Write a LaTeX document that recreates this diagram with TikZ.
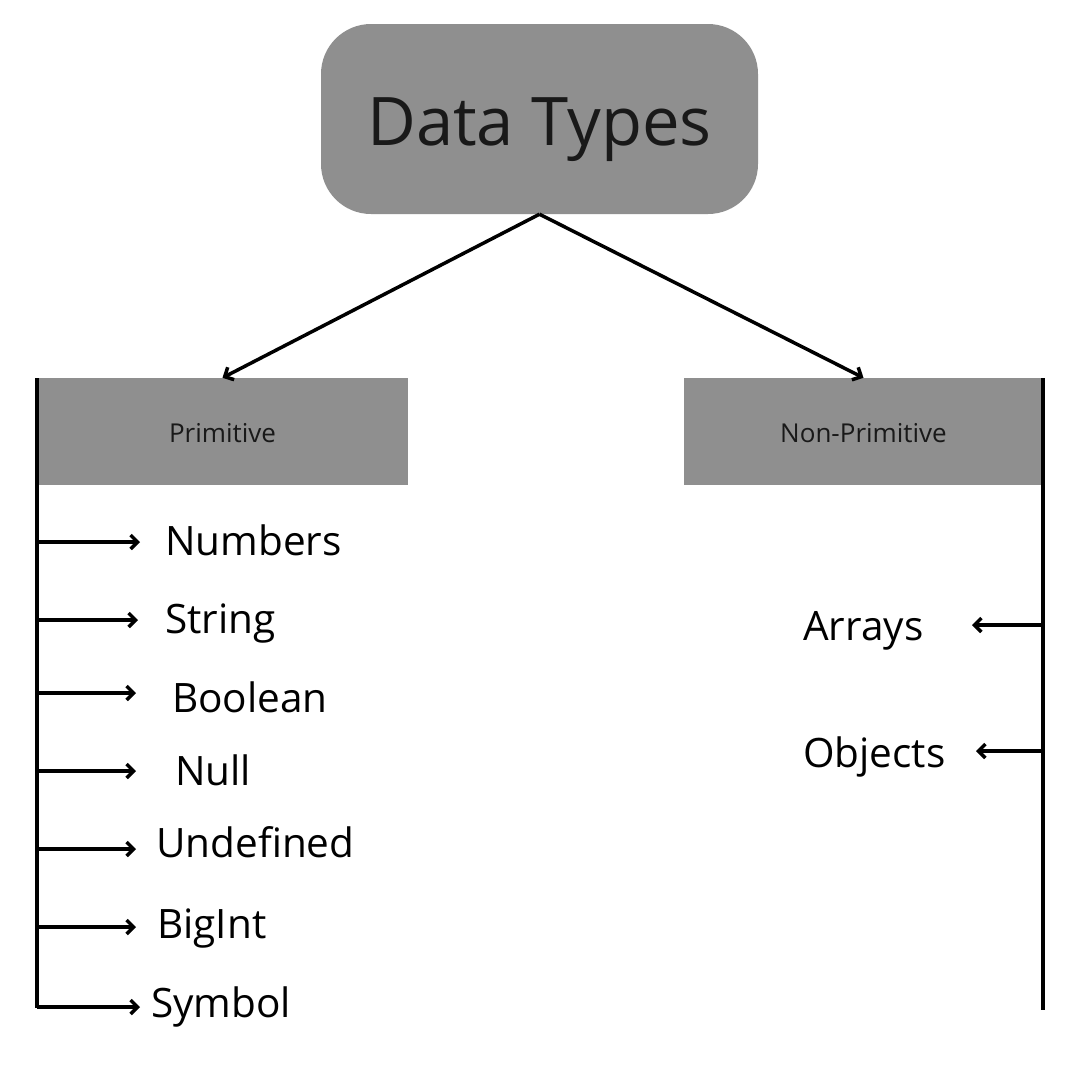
\documentclass[tikz,border=0pt]{standalone}
\usepackage{fontspec}
\setmainfont{Open Sans}
\usetikzlibrary{arrows.meta}
\definecolor{boxgray}{HTML}{8F8F8F}
\begin{document}
\begin{tikzpicture}[x=1pt,y=-1pt,
  tip/.style={-{Straight Barb[length=7pt,width=14pt,line width=3.5pt]}},
  conn/.style={line width=3.5pt,line join=round,tip},
  spine/.style={line width=3.8pt},
  graybox/.style={fill=boxgray,draw=none,inner sep=0pt,text=black!90},
  item/.style={anchor=base west,inner sep=0pt,font=\fontsize{40.5}{44}\selectfont}]
\useasboundingbox[fill=white] (0,0) rectangle (1080,1080);
% top node
\node[graybox,rounded corners=50pt,minimum width=437pt,minimum height=190pt,
      text height=52pt,text depth=0pt,font=\fontsize{67}{72}\selectfont] (dt) at (539.5,119) {Data Types};
% category boxes
\node[graybox,minimum width=371pt,minimum height=107pt,text height=21pt,text depth=0pt,
      font=\fontsize{26}{30}\selectfont] (prim) at (222.5,431.5) {Primitive};
\node[graybox,minimum width=359pt,minimum height=107pt,text height=21pt,text depth=0pt,
      font=\fontsize{26}{30}\selectfont] (nonprim) at (863.5,431.5) {Non-Primitive};
\draw[conn] (dt.south) -- (prim.north);
\draw[conn] (dt.south) -- (nonprim.north);
% spines
\coordinate (ltop) at (37,378);
\coordinate (lbot) at (37,1008);
\coordinate (rtop) at (1043,378);
\coordinate (rbot) at (1043,1010);
\draw[spine] (ltop) -- (lbot);
\draw[spine] (rtop) -- (rbot);
% primitive items
\node[item] (n1) at (165,555) {Numbers};
\node[item] (n2) at (165,633) {String};
\node[item] (n3) at (172,712) {Boolean};
\node[item] (n4) at (175,785) {Null};
\node[item] (n5) at (156,857) {Undefined};
\node[item] (n6) at (157,938) {BigInt};
\node[item] (n7) at (151,1017) {Symbol};
\foreach \i/\y/\e in {1/542/140,2/620/138,3/693/136,4/771/136,5/849/136,6/927/136,7/1007/140}{
  \coordinate (s\i) at (37,\y);
  \coordinate (e\i) at (\e,\y);
  \draw[conn] (s\i) -- (e\i);
}
% non-primitive items
\node[item] (a1) at (803,640) {Arrays};
\node[item] (a2) at (803,767) {Objects};
\coordinate (r1) at (1043,625);
\coordinate (q1) at (972,625);
\coordinate (r2) at (1043,751);
\coordinate (q2) at (976,751);
\draw[conn] (r1) -- (q1);
\draw[conn] (r2) -- (q2);
\end{tikzpicture}
\end{document}
